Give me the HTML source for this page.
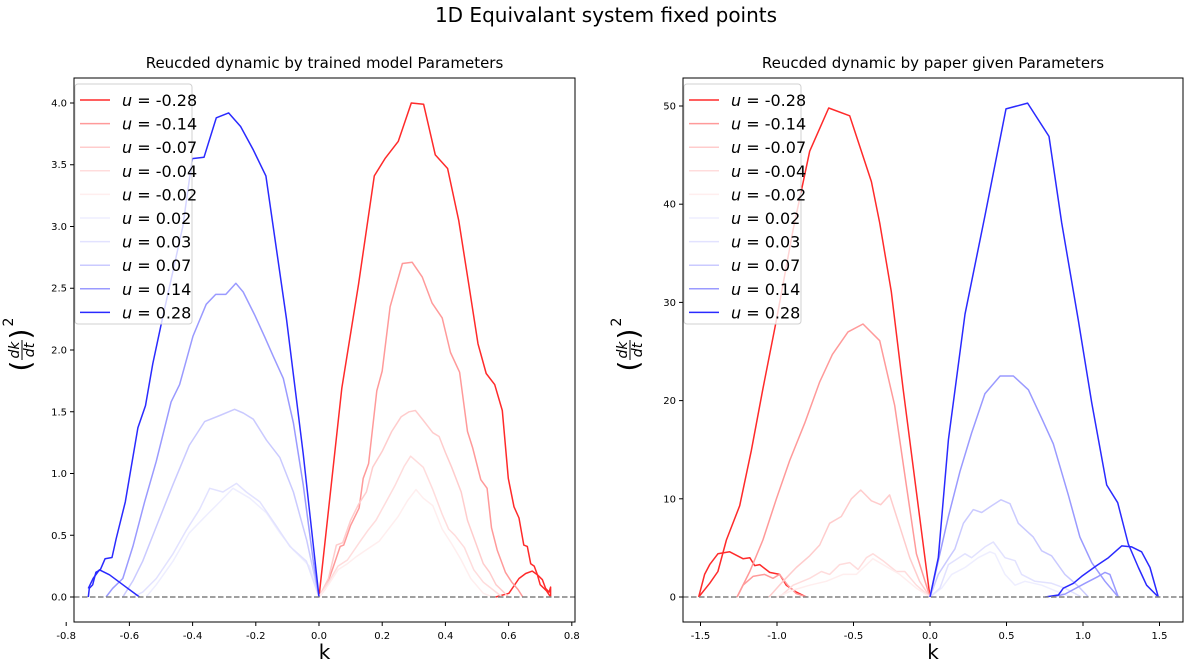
<!DOCTYPE html>
<html><head><meta charset="utf-8"><style>
html,body{margin:0;padding:0;background:#fff;}
svg{display:block;font-family:"DejaVu Sans","Liberation Sans",sans-serif;}
</style></head><body>
<svg id="fig" width="1189" height="669" viewBox="0 0 1189 669">
<text x="606" y="22" text-anchor="middle" font-size="20">1D Equivalant system fixed points</text>
</svg>
<script>
const uLabels = ["-0.28","-0.14","-0.07","-0.04","-0.02","0.02","0.03","0.07","0.14","0.28"];
const seriesColors = ["#ff2a2a","#ff9a9a","#ffcccc","#ffdcdc","#ffeeee","#eeeeff","#e2e2ff","#cacaff","#9a9aff","#2a2aff"];
const leftK_m028 = [0,0.072,0.125,0.175,0.209,0.251,0.292,0.331,0.368,0.407,0.442,0.474,0.503,0.529,0.556,0.58,0.599,0.617,0.633,0.648,0.659,0.67,0.681,0.691,0.70,0.72,0.733];
const leftV_m028 = [0,1.69,2.53,3.41,3.55,3.69,4.0,3.99,3.58,3.47,3.05,2.53,2.05,1.81,1.72,1.51,0.96,0.73,0.64,0.42,0.41,0.27,0.25,0.18,0.10,0.05,0];
const leftK_m028b = [0.559,0.601,0.633,0.654,0.675,0.691,0.707,0.717,0.728,0.733,0.733];
const leftV_m028b = [0,0.03,0.15,0.19,0.21,0.18,0.14,0.07,0.04,0.08,0];
const leftK_m014 = [0,0.021,0.042,0.067,0.078,0.1,0.127,0.14,0.157,0.183,0.2,0.225,0.245,0.264,0.295,0.327,0.358,0.39,0.416,0.445,0.47,0.486,0.512,0.532,0.546,0.564,0.59,0.61,0.63,0.645];
const leftV_m014 = [0,0.07,0.22,0.41,0.42,0.58,0.72,0.96,1.08,1.67,1.83,2.35,2.53,2.70,2.71,2.59,2.38,2.26,1.98,1.82,1.34,1.21,0.95,0.88,0.56,0.38,0.20,0.12,0.06,0];
const leftK_m007 = [0,0.03,0.055,0.075,0.1,0.125,0.15,0.17,0.2,0.23,0.26,0.285,0.305,0.33,0.36,0.38,0.4,0.42,0.45,0.47,0.5,0.52,0.54,0.56,0.58,0.6];
const leftV_m007 = [0,0.15,0.42,0.44,0.62,0.75,0.85,1.05,1.18,1.34,1.46,1.50,1.51,1.43,1.33,1.30,1.17,1.05,0.85,0.62,0.41,0.27,0.2,0.1,0.05,0];
const leftK_m004 = [0,0.03,0.06,0.09,0.13,0.155,0.18,0.21,0.24,0.27,0.29,0.33,0.36,0.39,0.41,0.43,0.46,0.49,0.52,0.55,0.58];
const leftV_m004 = [0,0.12,0.25,0.3,0.45,0.54,0.62,0.76,0.9,1.06,1.14,1.05,0.87,0.67,0.55,0.50,0.40,0.22,0.12,0.06,0];
const leftK_m002 = [0,0.03,0.06,0.09,0.12,0.16,0.19,0.22,0.25,0.28,0.307,0.33,0.36,0.39,0.42,0.45,0.48,0.52,0.55];
const leftV_m002 = [0,0.1,0.22,0.27,0.33,0.4,0.45,0.55,0.65,0.78,0.87,0.80,0.74,0.55,0.43,0.3,0.15,0.03,0];
const leftK_p002 = [0,-0.03,-0.081,-0.124,-0.166,-0.219,-0.272,-0.314,-0.357,-0.41,-0.462,-0.515,-0.547];
const leftV_p002 = [0,0.25,0.38,0.52,0.68,0.8,0.88,0.77,0.66,0.52,0.29,0.1,0];
const leftK_p003 = [0,-0.04,-0.092,-0.134,-0.187,-0.23,-0.261,-0.304,-0.346,-0.378,-0.42,-0.462,-0.515,-0.558,-0.589];
const leftV_p003 = [0,0.29,0.41,0.57,0.77,0.85,0.92,0.85,0.88,0.71,0.54,0.35,0.15,0.04,0];
const leftK_p007 = [0,-0.039,-0.081,-0.124,-0.166,-0.208,-0.24,-0.267,-0.314,-0.362,-0.41,-0.462,-0.515,-0.558,-0.589,-0.621];
const leftV_p007 = [0,0.46,0.85,1.13,1.27,1.44,1.49,1.52,1.47,1.42,1.23,0.91,0.57,0.29,0.13,0];
const leftK_p014 = [0,-0.018,-0.05,-0.081,-0.113,-0.145,-0.171,-0.203,-0.24,-0.263,-0.295,-0.327,-0.357,-0.399,-0.441,-0.468,-0.515,-0.552,-0.589,-0.621,-0.653,-0.674];
const leftV_p014 = [0,0.29,0.91,1.41,1.77,1.95,2.1,2.28,2.47,2.54,2.45,2.45,2.37,2.11,1.72,1.58,1.10,0.77,0.41,0.15,0.07,0];
const leftK_p028 = [0,-0.05,-0.103,-0.168,-0.208,-0.248,-0.286,-0.325,-0.364,-0.401,-0.431,-0.462,-0.496,-0.526,-0.549,-0.573,-0.613,-0.642,-0.655,-0.677,-0.692,-0.706,-0.716,-0.727,-0.73];
const leftV_p028 = [0,1.16,2.25,3.41,3.62,3.81,3.92,3.88,3.56,3.55,3.0,2.64,2.25,1.89,1.55,1.37,0.77,0.47,0.32,0.31,0.22,0.2,0.1,0.07,0];
const leftK_p028b = [-0.73,-0.715,-0.695,-0.663,-0.621,-0.568];
const leftV_p028b = [0.07,0.15,0.22,0.18,0.1,0];
const rightK_m028 = [-1.512,-1.44,-1.386,-1.331,-1.244,-1.168,-1.092,-1.004,-0.895,-0.786,-0.662,-0.525,-0.383,-0.329,-0.253,-0.176,-0.089,0];
const rightV_m028 = [0,1.4,2.6,5.8,9.3,14.9,21.2,28.2,37.4,45.4,49.8,49.0,42.3,38.1,31.1,21.2,10.7,0];
const rightK_m028b = [-1.512,-1.473,-1.44,-1.386,-1.309,-1.222,-1.178,-1.146,-1.113,-1.048,-0.983,-0.939,-0.874,-0.808];
const rightV_m028b = [0,2.3,3.3,4.4,4.6,3.9,4.0,3.2,3.3,2.5,2.3,1.2,0.5,0];
const rightK_m014 = [-1.261,-1.178,-1.092,-1.004,-0.917,-0.819,-0.721,-0.638,-0.536,-0.438,-0.329,-0.231,-0.155,-0.089,0];
const rightV_m014 = [0,2.6,5.8,10,13.9,17.7,21.9,24.7,27.0,27.8,26.1,19.5,11.4,4.4,0];
const rightK_m014b = [-1.261,-1.222,-1.157,-1.081,-1.026,-0.983,-0.93,-0.874,-0.808];
const rightV_m014b = [0,1.2,2.1,2.3,1.9,2.3,1.2,0.35,0];
const rightK_m007 = [-1.052,-0.961,-0.874,-0.786,-0.721,-0.656,-0.58,-0.514,-0.453,-0.383,-0.322,-0.264,-0.198,-0.133,-0.068,0];
const rightV_m007 = [0,1.6,3.0,4.2,5.3,7.5,8.2,10.0,10.9,9.8,9.4,10.4,7.2,4.0,1.6,0];
const rightK_m004 = [-0.983,-0.895,-0.786,-0.71,-0.656,-0.59,-0.525,-0.47,-0.416,-0.373,-0.307,-0.22,-0.165,-0.089,0];
const rightV_m004 = [0,1.2,1.9,2.6,2.3,3.3,3.5,2.8,4.0,4.4,3.7,2.6,2.6,1.2,0];
const rightK_m002 = [-1.0,-0.895,-0.786,-0.678,-0.569,-0.482,-0.373,-0.307,-0.198,-0.089,0];
const rightV_m002 = [0,0.7,1.2,1.6,2.3,2.3,3.9,3.3,2.3,0.9,0];
const rightK_p002 = [0,0.076,0.142,0.229,0.316,0.392,0.425,0.49,0.556,0.621,0.73,0.839,0.926];
const rightV_p002 = [0,0.9,2.3,3.0,4.0,4.6,4.4,2.3,1.2,1.6,1.2,0.5,0];
const rightK_p003 = [0,0.065,0.12,0.229,0.272,0.359,0.414,0.49,0.556,0.599,0.686,0.795,0.882,0.99];
const rightV_p003 = [0,0.9,3.3,4.4,4.0,5.1,5.6,4.0,3.7,2.3,1.6,1.4,0.9,0];
const rightK_p007 = [0,0.054,0.12,0.163,0.218,0.283,0.338,0.403,0.464,0.523,0.577,0.675,0.73,0.795,0.882,0.969,1.035];
const rightV_p007 = [0,2.3,3.9,4.9,7.5,8.9,8.6,9.3,9.9,9.5,7.5,6.1,4.7,4.2,2.3,1.1,0];
const rightK_p014 = [0,0.054,0.12,0.196,0.272,0.359,0.458,0.545,0.643,0.73,0.806,0.904,0.98,1.057,1.144,1.231];
const rightV_p014 = [0,3.7,8.2,12.8,16.7,20.7,22.5,22.5,21.1,18.2,15.6,10.4,6.1,3.5,1.6,0];
const rightK_p014b = [0.795,0.882,1.013,1.10,1.144,1.176,1.231];
const rightV_p014b = [0,0.3,1.4,2.1,2.5,2.3,0];
const rightK_p028 = [0,0.054,0.12,0.229,0.359,0.497,0.638,0.778,0.861,0.969,1.057,1.155,1.227,1.296,1.362,1.416,1.492];
const rightV_p028 = [0,4.0,16.0,28.8,38.8,49.7,50.3,46.9,38.1,28.2,19.8,11.4,9.6,5.4,3.0,1.2,0];
const rightK_p028b = [0.752,0.839,0.871,0.937,0.991,1.089,1.166,1.253,1.318,1.383,1.438,1.492];
const rightV_p028b = [0,0.2,0.9,1.4,2.1,3.2,4.0,5.2,5.1,4.6,3.0,0];
const leftXTicks = ["-0.8","-0.6","-0.4","-0.2","0.0","0.2","0.4","0.6","0.8"];
const leftYTicks = ["0.0","0.5","1.0","1.5","2.0","2.5","3.0","3.5","4.0"];
const rightXTicks = ["-1.5","-1.0","-0.5","0.0","0.5","1.0","1.5"];
const rightYTicks = ["0","10","20","30","40","50"];

const NS = "http://www.w3.org/2000/svg";
const fig = document.getElementById("fig");
function mk(tag, attrs, parent){const e=document.createElementNS(NS,tag);for(const k in attrs)e.setAttribute(k,attrs[k]);(parent||fig).appendChild(e);return e;}

function panel(cfg){
  const g = mk("g",{});
  
  
  const sx = k => cfg.x0 + (k - cfg.xmin)/(cfg.xmax - cfg.xmin)*(cfg.x1 - cfg.x0);
  const sy = v => cfg.y1 - (v - cfg.ymin)/(cfg.ymax - cfg.ymin)*(cfg.y1 - cfg.y0);
  const t = mk("text",{x:(cfg.x0+cfg.x1)/2,y:cfg.y0-10,"text-anchor":"middle","font-size":15},g);
  t.textContent = cfg.title;
  
  
  cfg.series.forEach((s,i)=>{
    s.forEach(seg=>{
      const d = seg[0].map((k,j)=>(j?"L":"M")+sx(k).toFixed(1)+","+sy(seg[1][j]).toFixed(1)).join("");
      const p = mk("path",{d:d,fill:"none",stroke:seriesColors[i],"stroke-width":1.5,"stroke-linejoin":"round"},g);
      
      
    });
  });
  const zl = mk("line",{x1:cfg.x0,x2:cfg.x1,y1:sy(0),y2:sy(0),stroke:"#808080","stroke-width":1.5,"stroke-dasharray":"5.5,2.5"},g);
  
  
  const fr = mk("rect",{x:cfg.x0,y:cfg.y0,width:cfg.x1-cfg.x0,height:cfg.y1-cfg.y0,fill:"none",stroke:"#000","stroke-width":1},g);
  
  
  cfg.xticks.forEach(l=>{
    const x = sx(parseFloat(l));
    mk("line",{x1:x,x2:x,y1:cfg.y1,y2:cfg.y1+4,stroke:"#000"},g);
    const tt = mk("text",{x:x,y:cfg.y1+17,"text-anchor":"middle","font-size":10},g);
    tt.textContent = l;
    
    
  });
  cfg.yticks.forEach(l=>{
    const y = sy(parseFloat(l));
    mk("line",{x1:cfg.x0-4,x2:cfg.x0,y1:y,y2:y,stroke:"#000"},g);
    const tt = mk("text",{x:cfg.x0-7,y:y+3.5,"text-anchor":"end","font-size":10},g);
    tt.textContent = l;
    
    
  });
  const xl = mk("text",{x:(cfg.x0+cfg.x1)/2,y:659,"text-anchor":"middle","font-size":20},g);
  xl.textContent = "k";
  
  
  const yl = mk("g",{transform:"translate("+cfg.ylx+",350) rotate(-90)"},g);
  
  
  let a=mk("text",{x:-16,y:8,"font-size":28,"text-anchor":"middle"},yl); a.textContent="(";
  a=mk("text",{x:0,y:-3,"font-size":14,"text-anchor":"middle","font-style":"italic"},yl); a.textContent="dk";
  mk("line",{x1:-10,x2:10,y1:0,y2:0,stroke:"#000","stroke-width":1},yl);
  a=mk("text",{x:0,y:12,"font-size":14,"text-anchor":"middle","font-style":"italic"},yl); a.textContent="dt";
  a=mk("text",{x:16,y:8,"font-size":28,"text-anchor":"middle"},yl); a.textContent=")";
  a=mk("text",{x:28,y:-9,"font-size":14,"text-anchor":"middle"},yl); a.textContent="2";
  const lg = mk("g",{},g);
  
  
  mk("rect",{x:cfg.x0+1,y:cfg.y0+6,width:117,height:240,rx:3,fill:"#fff","fill-opacity":0.8,stroke:"#d0d0d0"},lg);
  uLabels.forEach((u,i)=>{
    const y = cfg.y0+22+i*23.6;
    const e = mk("g",{},lg);
    
    
    mk("line",{x1:cfg.x0+6,x2:cfg.x0+36,y1:y,y2:y,stroke:seriesColors[i],"stroke-width":1.5},e);
    const tx = mk("text",{x:cfg.x0+48,y:y+6,"font-size":16},e);
    const it = mk("tspan",{"font-style":"italic"},tx); it.textContent="u";
    const r = mk("tspan",{},tx); r.textContent=" = "+u;
  });
}

panel({name:"left-subplot",title:"Reucded dynamic by trained model Parameters",x0:74,x1:575,y0:78,y1:622,
  xmin:-0.7753,xmax:0.8101,ymin:-0.2024,ymax:4.2024,ylx:22,xticks:leftXTicks,yticks:leftYTicks,
  series:[[[leftK_m028,leftV_m028],[leftK_m028b,leftV_m028b]],[[leftK_m014,leftV_m014]],[[leftK_m007,leftV_m007]],[[leftK_m004,leftV_m004]],[[leftK_m002,leftV_m002]],
    [[leftK_p002,leftV_p002]],[[leftK_p003,leftV_p003]],[[leftK_p007,leftV_p007]],[[leftK_p014,leftV_p014]],[[leftK_p028,leftV_p028],[leftK_p028b,leftV_p028b]]]});
panel({name:"right-subplot",title:"Reucded dynamic by paper given Parameters",x0:683,x1:1183,y0:78,y1:622,
  xmin:-1.6144,xmax:1.6536,ymin:-2.546,ymax:52.851,ylx:630,xticks:rightXTicks,yticks:rightYTicks,
  series:[[[rightK_m028,rightV_m028],[rightK_m028b,rightV_m028b]],[[rightK_m014,rightV_m014],[rightK_m014b,rightV_m014b]],[[rightK_m007,rightV_m007]],[[rightK_m004,rightV_m004]],[[rightK_m002,rightV_m002]],
    [[rightK_p002,rightV_p002]],[[rightK_p003,rightV_p003]],[[rightK_p007,rightV_p007]],[[rightK_p014,rightV_p014],[rightK_p014b,rightV_p014b]],[[rightK_p028,rightV_p028],[rightK_p028b,rightV_p028b]]]});
</script>
</body></html>
